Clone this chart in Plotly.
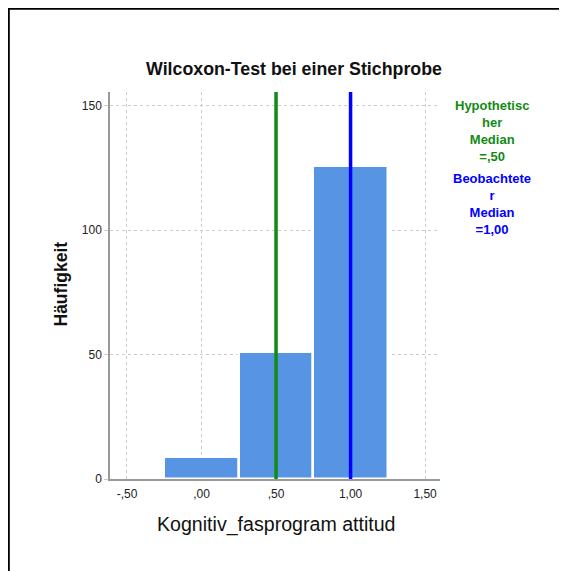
import plotly.graph_objects as go

# histogram bins (centres) and counts
bin_centers = [0.0, 0.5, 1.0]
counts = [9, 51, 126]

hyp_median = 0.5
obs_median = 1.0

x_ticks = [-0.5, 0.0, 0.5, 1.0, 1.5]
x_ticktext = ['-,50', ',00', ',50', '1,00', '1,50']
y_ticks = [0, 50, 100, 150]

hyp_lines = ['Hypothetisc', 'her', 'Median', '=,50']
obs_lines = ['Beobachtete', 'r', 'Median', '=1,00']

font_fam = 'Liberation Sans, Arial, sans-serif'

# figure size (page has 8px body margin) and plot area in pixels
W, H = 559, 563
L, R, T, B = 102, 127, 84, 92
PW, PH = W - L - R, H - T - B


def px_x(x):
    return (x - L) / PW


def px_y(y):
    return (H - B - y) / PH


fig = go.Figure()

fig.add_trace(go.Bar(
    x=bin_centers,
    y=counts,
    width=0.5,
    marker=dict(color='#5795e4', line=dict(color='white', width=2.5)),
    showlegend=False,
    hoverinfo='skip',
))

# median lines
for val, col in [(hyp_median, '#138a13'), (obs_median, '#0000ff')]:
    fig.add_shape(type='line', xref='x', yref='y domain', x0=val, x1=val, y0=0, y1=1,
                  line=dict(color=col, width=3.5))

# legend-like text blocks on the right
for block, mid, col in [(hyp_lines, 123, '#138a13'), (obs_lines, 195.5, '#0000ff')]:
    fig.add_annotation(xref='paper', yref='paper', x=px_x(483.5), y=px_y(mid),
                       xanchor='center', yanchor='middle', align='center',
                       text='<b>' + '<br>'.join(block) + '</b>', showarrow=False,
                       font=dict(family=font_fam, size=13, color=col))

# titles
fig.add_annotation(xref='paper', yref='paper', x=px_x(285.5), y=px_y(61), xanchor='center', yanchor='middle',
                   text='<b>Wilcoxon-Test bei einer Stichprobe</b>', showarrow=False,
                   font=dict(family=font_fam, size=17.8, color='#111'))
fig.add_annotation(xref='paper', yref='paper', x=px_x(268.5), y=px_y(516), xanchor='center', yanchor='middle',
                   text='Kognitiv_fasprogram attitud', showarrow=False,
                   font=dict(family=font_fam, size=19.6, color='#111'))
fig.add_annotation(xref='paper', yref='paper', x=px_x(52), y=px_y(276.5), xanchor='center', yanchor='middle',
                   text='<b>Häufigkeit</b>', showarrow=False, textangle=-90,
                   font=dict(family=font_fam, size=17.5, color='#111'))

# outer frame
fig.add_shape(type='rect', xref='paper', yref='paper', x0=px_x(0.8), x1=px_x(W + 20),
              y0=px_y(H + 20), y1=px_y(0.8), line=dict(color='black', width=2))

fig.update_layout(
    width=W, height=H,
    margin=dict(l=L, r=R, t=T, b=B),
    paper_bgcolor='white', plot_bgcolor='white',
    font=dict(family=font_fam, color='black'),
    bargap=0,
    xaxis=dict(
        range=[-0.614, 1.6],
        tickvals=x_ticks, ticktext=x_ticktext,
        tickfont=dict(size=12, color='#222'),
        showgrid=True, gridcolor='#cccccc', griddash='3px,3px', gridwidth=1,
        showline=True, linecolor='#999999', linewidth=1.5,
        zeroline=False, ticks='outside', ticklen=3, tickcolor='rgba(0,0,0,0)',
    ),
    yaxis=dict(
        range=[0, 155.6],
        tickvals=y_ticks,
        tickfont=dict(size=12, color='#222'),
        showgrid=True, gridcolor='#cccccc', griddash='3px,3px', gridwidth=1,
        showline=True, linecolor='#999999', linewidth=1.5,
        zeroline=False, ticks='outside', ticklen=4, tickcolor='#cccccc',
    ),
)

fig.write_html('out.html')
